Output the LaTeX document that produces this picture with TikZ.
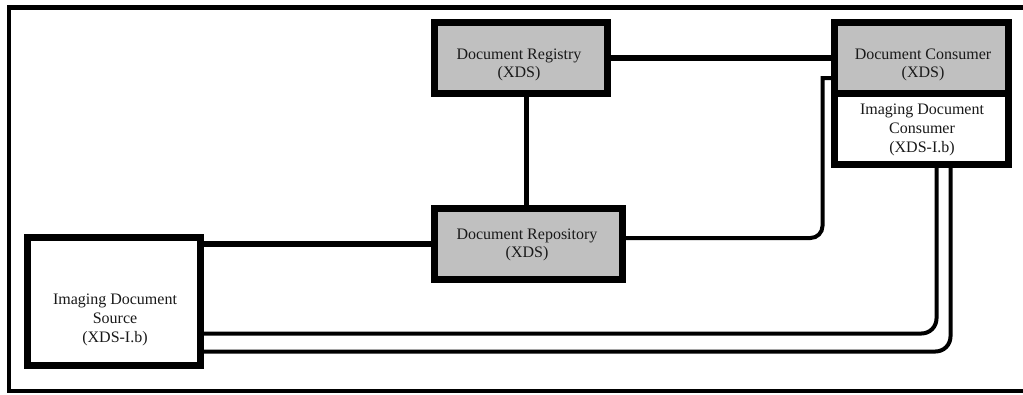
\documentclass[tikz,border=0pt]{standalone}
\usepackage{fontspec}
\setmainfont{Liberation Serif}
\begin{document}
\begin{tikzpicture}[x=1pt, y=-1pt,
  box/.style={draw=black, line width=7pt, rectangle, inner sep=0pt},
  actor/.style={box, fill=boxgray},
  plain/.style={box, fill=white},
  lbl/.style={inner sep=0pt, align=center, text=black!90,
              font=\fontsize{16}{18.7}\selectfont},
  thick link/.style={line width=6pt},
  link/.style={line width=4pt}]
\definecolor{boxgray}{RGB}{192,192,192}
\clip (0,0) rectangle (1023,394);
\fill[white] (0,0) rectangle (1023,394);

% outer frame (right side runs past the page edge)
\draw[line width=4.5pt] (1040,7.5) -- (9,7.5) -- (9,391) -- (1040,391);

% actors
\node[plain, minimum width=174pt, minimum height=71pt] (imc) at (921.5,129) {};
\node[actor, minimum width=174pt, minimum height=71pt] (con) at (921.5,58) {};
\node[actor, minimum width=173pt, minimum height=71pt] (reg) at (521,58) {};
\node[actor, minimum width=188pt, minimum height=71pt] (rep) at (528.5,244) {};
\node[plain, minimum width=173pt, minimum height=128pt] (src) at (114,301.5) {};

% labels
\node[lbl] (regT) at (519,65) {Document Registry\\(XDS)};
\node[lbl] (conT) at (923,65) {Document Consumer\\(XDS)};
\node[lbl] (imcT) at (922,130) {Imaging Document\\Consumer\\(XDS-I.b)};
\node[lbl] (repT) at (527,245) {Document Repository\\(XDS)};
\node[lbl] (srcT) at (115,320) {Imaging Document\\Source\\(XDS-I.b)};

% connections
\draw[thick link] (reg.east) -- (reg.east -| con.west);
\draw[line width=4.5pt] ([xshift=5.5pt]reg.south) -- ([xshift=-2pt]rep.north);
\draw[thick link] (rep.west -| src.east) -- (rep.west);
\coordinate (bend) at (822.5,78);
\draw[link] (bend -| con.west) -- (bend)
  [rounded corners=12pt] |- ([yshift=6pt]rep.east);
\draw[link, rounded corners=15pt] ([yshift=-32pt]src.east) -| ([xshift=15pt]imc.south);
\draw[link, rounded corners=15pt] ([yshift=-50pt]src.east) -| ([xshift=29pt]imc.south);
\end{tikzpicture}
\end{document}
